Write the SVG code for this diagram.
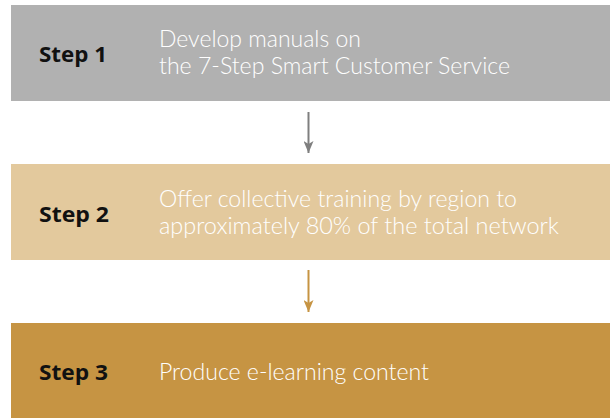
<svg xmlns="http://www.w3.org/2000/svg" width="610" height="418" viewBox="0 0 610 418">
<defs>
<style>
.step{font-family:"Open Sans","Liberation Sans",sans-serif;font-weight:700;font-size:22px;fill:#111}
.desc{font-family:Lato,"Open Sans",sans-serif;font-weight:300;font-size:22.5px;fill:#fff}
</style>
<marker id="ah1" viewBox="0 0 12 10" refX="12" refY="5" markerWidth="12" markerHeight="10" markerUnits="userSpaceOnUse" orient="auto"><path d="M0,0 L12,5 L0,10 L3,5 Z" fill="#7f7f7f"/></marker>
<marker id="ah2" viewBox="0 0 12 10" refX="12" refY="5" markerWidth="12" markerHeight="10" markerUnits="userSpaceOnUse" orient="auto"><path d="M0,0 L12,5 L0,10 L3,5 Z" fill="#c69443"/></marker>
</defs>
<rect width="610" height="418" fill="#fff"/>
<g id="step1">
<rect x="11" y="5" width="599" height="96" fill="#b1b1b1"/>
<text class="step" x="39" y="62" textLength="68" lengthAdjust="spacingAndGlyphs">Step 1</text>
<text class="desc" x="159" y="47" textLength="202" lengthAdjust="spacingAndGlyphs">Develop manuals on</text>
<text class="desc" x="159" y="74" textLength="351" lengthAdjust="spacingAndGlyphs">the 7-Step Smart Customer Service</text>
</g>
<g id="step2">
<rect x="11" y="164" width="599" height="96" fill="#e3c99d"/>
<text class="step" x="39" y="221.5" textLength="70" lengthAdjust="spacingAndGlyphs">Step 2</text>
<text class="desc" x="159" y="206.5" textLength="358" lengthAdjust="spacingAndGlyphs">Offer collective training by region to</text>
<text class="desc" x="159" y="233.5" textLength="400" lengthAdjust="spacingAndGlyphs">approximately 80% of the total network</text>
</g>
<g id="step3">
<rect x="11" y="323" width="599" height="95" fill="#c69443"/>
<text class="step" x="39" y="379.5" textLength="69" lengthAdjust="spacingAndGlyphs">Step 3</text>
<text class="desc" x="159" y="379.5" textLength="270" lengthAdjust="spacingAndGlyphs">Produce e-learning content</text>
</g>
<g id="connectors">
<line x1="308.5" y1="112" x2="308.5" y2="153" stroke="#7f7f7f" stroke-width="2" marker-end="url(#ah1)"/>
<line x1="308.5" y1="270" x2="308.5" y2="312" stroke="#c69443" stroke-width="2" marker-end="url(#ah2)"/>
</g>
</svg>
